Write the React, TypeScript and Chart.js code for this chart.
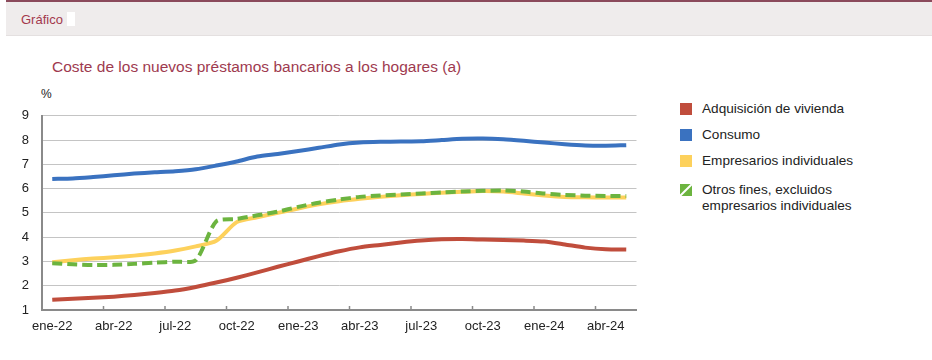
import React, { useEffect, useRef } from "react";
import { Chart, registerables } from "chart.js";

Chart.register(...registerables);

const months = [
  "ene-22", "feb-22", "mar-22", "abr-22", "may-22", "jun-22", "jul-22", "ago-22", "sep-22", "oct-22", "nov-22", "dic-22",
  "ene-23", "feb-23", "mar-23", "abr-23", "may-23", "jun-23", "jul-23", "ago-23", "sep-23", "oct-23", "nov-23", "dic-23",
  "ene-24", "feb-24", "mar-24", "abr-24", "may-24",
];

const vivienda = [
  1.42, 1.46, 1.50, 1.55, 1.62, 1.70, 1.80, 1.95, 2.13, 2.33, 2.55, 2.78,
  3.00, 3.22, 3.42, 3.58, 3.68, 3.78, 3.86, 3.91, 3.92, 3.90, 3.88, 3.86,
  3.82, 3.70, 3.57, 3.50, 3.49,
];

const consumo = [
  6.40, 6.42, 6.48, 6.55, 6.62, 6.67, 6.72, 6.80, 6.95, 7.12, 7.32, 7.43,
  7.55, 7.68, 7.82, 7.90, 7.93, 7.94, 7.95, 8.00, 8.05, 8.06, 8.03, 7.97,
  7.90, 7.83, 7.78, 7.77, 7.79,
];

const empresarios = [
  2.97, 3.05, 3.12, 3.17, 3.24, 3.33, 3.45, 3.62, 3.85, 4.62, 4.82, 5.00,
  5.18, 5.35, 5.48, 5.58, 5.66, 5.73, 5.78, 5.83, 5.87, 5.90, 5.88, 5.80,
  5.72, 5.66, 5.64, 5.63, 5.63,
];

const otrosFines = [
  2.93, 2.88, 2.85, 2.86, 2.90, 2.95, 2.99, 3.05, 4.65, 4.75, 4.90, 5.05,
  5.25, 5.42, 5.55, 5.66, 5.72, 5.76, 5.80, 5.84, 5.88, 5.91, 5.92, 5.88,
  5.80, 5.74, 5.71, 5.70, 5.70,
];

const yTicks = [1, 2, 3, 4, 5, 6, 7, 8, 9];

const seriesNames = [
  "Adquisición de vivienda",
  "Consumo",
  "Empresarios individuales",
  "Otros fines, excluidos empresarios individuales",
];

const RED = "#c04d3c";
const BLUE = "#3a72c0";
const YELLOW = "#fdd15c";
const GREEN = "#6cb43f";
const FONT = "'Liberation Sans', Arial, sans-serif";

const innerTicks = {
  id: "innerTicks",
  afterDraw(chart: any) {
    const x = chart.scales.x;
    const ctx = chart.ctx;
    const half = (x.getPixelForValue(1) - x.getPixelForValue(0)) / 2;
    ctx.save();
    ctx.strokeStyle = "#8a8a8a";
    ctx.lineWidth = 1.5;
    for (let i = 3; i < months.length; i += 3) {
      const px = x.getPixelForValue(i) - half;
      ctx.beginPath();
      ctx.moveTo(px, x.top);
      ctx.lineTo(px, x.top - 4);
      ctx.stroke();
    }
    ctx.restore();
  },
};

export default function App() {
  const canvasRef = useRef<HTMLCanvasElement>(null);

  useEffect(() => {
    const common = {
      borderWidth: 4,
      pointRadius: 0,
      tension: 0.25,
      fill: false,
    };
    const chart = new Chart(canvasRef.current!, {
      type: "line",
      data: {
        labels: months,
        datasets: [
          { ...common, label: seriesNames[0], data: vivienda, borderColor: RED, backgroundColor: RED, order: 1 },
          { ...common, label: seriesNames[1], data: consumo, borderColor: BLUE, backgroundColor: BLUE, order: 1 },
          { ...common, label: seriesNames[2], data: empresarios, borderColor: YELLOW, backgroundColor: YELLOW, order: 1 },
          {
            ...common,
            label: seriesNames[3],
            data: otrosFines,
            borderColor: GREEN,
            backgroundColor: GREEN,
            borderDash: [10, 5],
            order: 0,
          },
        ],
      },
      options: {
        animation: false,
        responsive: false,
        maintainAspectRatio: false,
        layout: { padding: { top: 10, right: 13.5, left: 0, bottom: 0 } },
        plugins: { legend: { display: false }, tooltip: { enabled: false } },
        scales: {
          x: {
            type: "category",
            offset: true,
            grid: { display: false, drawTicks: false },
            border: { display: true, color: "#8a8a8a", width: 2 },
            ticks: {
              autoSkip: false,
              maxRotation: 0,
              padding: 9,
              color: "#222",
              font: { family: FONT, size: 13 },
              callback: (_v: any, i: number) => (i % 3 === 0 ? months[i] : ""),
            },
            afterFit: (s: any) => {
              s.height = 35;
            },
          },
          y: {
            min: 1,
            max: 9,
            afterBuildTicks: (s: any) => {
              s.ticks = yTicks.map((v) => ({ value: v }));
            },
            grid: { color: "#c4c4c4", lineWidth: 1, drawTicks: false },
            border: { display: true, color: "#8a8a8a", width: 2 },
            ticks: {
              padding: 13,
              color: "#222",
              font: { family: FONT, size: 13 },
            },
            afterFit: (s: any) => {
              s.width = 42;
            },
          },
        },
      },
      plugins: [innerTicks],
    });
    return () => chart.destroy();
  }, []);

  const legendRow = (top: number, color: string, text: React.ReactNode, striped = false) => (
    <div style={{ position: "absolute", left: 680, top, display: "flex", alignItems: "flex-start" }}>
      <svg width={12} height={12} style={{ marginTop: 2, flex: "none" }}>
        <rect x={0} y={0} width={12} height={12} fill={color} />
        {striped && <line x1={0} y1={12} x2={12} y2={0} stroke="#fff" strokeWidth={2} />}
      </svg>
      <div style={{ marginLeft: 10, fontSize: 13.6, lineHeight: "16px", color: "#222", fontFamily: FONT }}>{text}</div>
    </div>
  );

  return (
    <div
      style={{
        position: "fixed",
        left: 0,
        top: 0,
        width: 932,
        height: 360,
        background: "#fff",
        fontFamily: FONT,
        overflow: "hidden",
      }}
    >
      <div
        style={{
          position: "absolute",
          left: 6,
          top: 0,
          width: 926,
          height: 33,
          borderTop: "2px solid #8b4a5c",
          borderBottom: "1px solid #e4e0e0",
          background: "#efecec",
        }}
      >
        <span style={{ position: "absolute", left: 15, top: 10, fontSize: 13, color: "#a3394d" }}>Gráfico</span>
        <span style={{ position: "absolute", left: 61, top: 10, width: 8, height: 14, background: "#fff" }} />
      </div>
      <div style={{ position: "absolute", left: 52, top: 58, fontSize: 15.5, color: "#9e3a4f", whiteSpace: "nowrap" }}>
        Coste de los nuevos préstamos bancarios a los hogares (a)
      </div>
      <div style={{ position: "absolute", left: 41, top: 87, fontSize: 12, color: "#222" }}>%</div>
      <canvas
        ref={canvasRef}
        width={650}
        height={250}
        style={{ position: "absolute", left: 0, top: 95, width: 650, height: 250 }}
      />
      {legendRow(101, RED, seriesNames[0])}
      {legendRow(127, BLUE, seriesNames[1])}
      {legendRow(153, YELLOW, seriesNames[2])}
      {legendRow(182, GREEN, (
        <>
          Otros fines, excluidos
          <br />
          empresarios individuales
        </>
      ), true)}
    </div>
  );
}
